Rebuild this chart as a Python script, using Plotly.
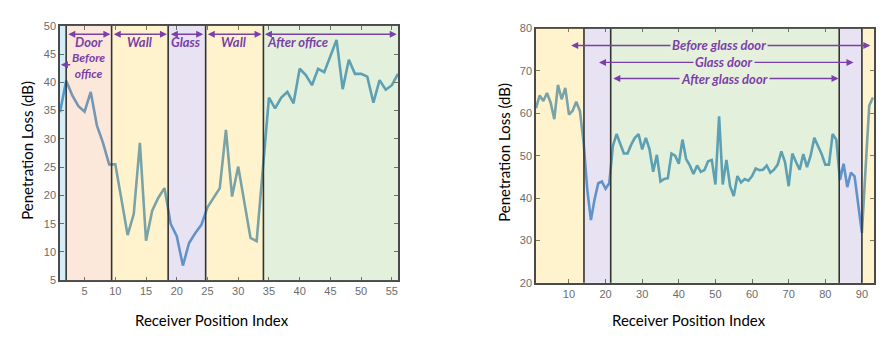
import plotly.graph_objects as go

# ---------------- data ----------------
left_x = list(range(1, 57))
left_y = [34.7, 40.3, 37.7, 35.8, 34.8, 38.3, 32.4, 29.3, 25.5, 25.5,
          19.3, 13.0, 16.7, 29.3, 12.0, 17.3, 19.6, 21.3, 15.0, 12.8,
          7.6, 11.6, 13.3, 14.8, 17.9, 19.6, 21.3, 31.6, 19.8, 25.1,
          18.8, 12.5, 11.9, 25.0, 37.3, 35.4, 37.3, 38.3, 36.3, 42.4,
          41.3, 39.5, 42.4, 41.8, 44.7, 47.5, 38.8, 44.0, 41.5, 41.5,
          41.0, 36.4, 40.4, 38.7, 39.5, 41.5]

right_x = list(range(1, 94))
right_y = [61.2, 64.2, 62.9, 64.8, 62.5, 58.6, 66.7, 63.3, 66.0, 59.7,
           60.6, 62.7, 60.5, 53.0, 42.0, 34.8, 39.7, 43.5, 43.9, 42.2,
           43.5, 52.3, 55.1, 52.8, 50.5, 50.5, 52.6, 54.2, 55.1, 51.5,
           54.2, 51.5, 46.2, 50.2, 43.9, 44.5, 44.7, 50.5, 50.0, 48.1,
           53.8, 49.2, 47.7, 45.7, 47.7, 46.2, 46.6, 48.7, 49.0, 43.2,
           59.3, 43.2, 49.0, 42.8, 40.5, 45.2, 43.7, 44.5, 44.1, 45.2,
           47.0, 46.6, 46.7, 47.7, 46.0, 46.7, 47.9, 51.0, 48.5, 42.8,
           50.5, 48.5, 46.7, 50.4, 47.3, 50.0, 54.2, 52.3, 50.4, 47.9,
           47.9, 55.1, 53.8, 44.3, 48.1, 42.6, 46.0, 45.1, 39.0, 31.8,
           47.0, 61.8, 63.7]

left_xticks = [5, 10, 15, 20, 25, 30, 35, 40, 45, 50, 55]
left_yticks = [5, 10, 15, 20, 25, 30, 35, 40, 45, 50]
right_xticks = [10, 20, 30, 40, 50, 60, 70, 80, 90]
right_yticks = [20, 30, 40, 50, 60, 70, 80]

# region boundaries (x data units) and kinds
left_bounds = [1, 2, 9.4, 18.6, 24.7, 34.1, 56]
left_kinds = ["blue", "peach", "yellow", "lavender", "yellow", "green"]
right_bounds = [1, 14.1, 21.4, 83.8, 90, 93.3]
right_kinds = ["yellow", "lavender", "green", "lavender", "yellow"]

# span labels (left chart): text, x-from, x-to
left_spans = [("Door", 2.1, 9.2), ("Wall", 9.5, 18.4), ("Glass", 18.8, 24.3),
              ("Wall", 24.8, 33.8)]
left_after = ("After office", 34.1, 55.8)
right_spans = [("Before glass door", 10.2, 92.3, 76.0),
               ("Glass door", 17.8, 87.7, 72.0),
               ("After glass door", 21.7, 83.6, 68.2)]

# ---------------- styles ----------------
overlay = {"blue": "#7CC8E4", "peach": "#F6B48E", "yellow": "#FFD966",
           "lavender": "#B4A7D6", "green": "#A9D08E"}
overlay_op = 0.32
line_color = "#3A8AC4"
purple = "#7B3FA8"
green_bg = "#E5F0DD"
tick_font = dict(family="Liberation Sans, Arial", size=11, color="#6b6b6b")
frame = "#4a4a4a"

fig = go.Figure()
fig.add_trace(go.Scatter(x=left_x, y=left_y, mode="lines",
                         line=dict(color=line_color, width=2.6),
                         xaxis="x", yaxis="y", showlegend=False))
fig.add_trace(go.Scatter(x=right_x, y=right_y, mode="lines",
                         line=dict(color=line_color, width=2.6),
                         xaxis="x2", yaxis="y2", showlegend=False))

shapes = []
def add_regions(bounds, kinds, xr, yr):
    for i, k in enumerate(kinds):
        shapes.append(dict(type="rect", xref=xr, yref=yr + " domain",
                           x0=bounds[i], x1=bounds[i + 1], y0=0, y1=1,
                           fillcolor=overlay[k], opacity=overlay_op,
                           line=dict(width=0), layer="above"))
    for b in bounds[1:-1]:
        shapes.append(dict(type="line", xref=xr, yref=yr + " domain",
                           x0=b, x1=b, y0=0, y1=1,
                           line=dict(color="#333333", width=1.6), layer="above"))

add_regions(left_bounds, left_kinds, "x", "y")
add_regions(right_bounds, right_kinds, "x2", "y2")

ann = []
def arrow(x0, x1, y, xr, yr, both=True):
    ann.append(dict(x=x1, y=y, ax=x0, ay=y, xref=xr, yref=yr, axref=xr, ayref=yr,
                    text="", showarrow=True, arrowhead=2, startarrowhead=2,
                    arrowsize=1, startarrowsize=1, arrowwidth=1.4,
                    arrowcolor=purple, standoff=0, startstandoff=0,
                    arrowside="end+start" if both else "end"))

label_font = dict(family="Lato, Carlito, sans-serif", size=13, color=purple)
small_label_font = dict(family="Lato, Carlito, sans-serif", size=12, color=purple)
for t, a, b in left_spans:
    arrow(a, b, 48.5, "x", "y")
    ann.append(dict(x=(a + b) / 2, y=47.1, xref="x", yref="y", showarrow=False,
                    text="<b><i>" + t + "</i></b>", font=label_font))
t, a, b = left_after
arrow(a, b, 48.5, "x", "y")
ann.append(dict(x=a + 0.2, y=47.1, xref="x", yref="y", showarrow=False,
                xanchor="left", text="<b><i>" + t + "</i></b>", font=label_font))
# before office (single left arrow)
arrow(2.9, 1.15, 43.1, "x", "y", both=False)
ann.append(dict(x=5.7, y=43.0, xref="x", yref="y", showarrow=False,
                text="<b><i>Before<br>office</i></b>", font=small_label_font))

for t, a, b, yv in right_spans:
    arrow(a, b, yv, "x2", "y2")
for t, a, b, yv in right_spans:
    ann.append(dict(x=(a + b) / 2 - 0.3, y=yv, xref="x2", yref="y2", showarrow=False,
                    text="<b><i>" + t + "</i></b>", font=label_font,
                    bgcolor=green_bg, borderpad=1))

title_font = dict(family="Lato, Carlito, sans-serif", size=15, color="black")
def paper_text(x, y, text, angle=0):
    ann.append(dict(x=x / 896, y=1 - y / 350, xref="paper", yref="paper",
                    xanchor="center", yanchor="middle", showarrow=False,
                    text=text, font=title_font, textangle=angle))

paper_text(212, 325, "Receiver Position Index")
paper_text(689, 325, "Receiver Position Index")
paper_text(27, 150, "Penetration Loss (dB)", -90)
paper_text(504, 152, "Penetration Loss (dB)", -90)

axis_common = dict(showline=True, linecolor=frame, linewidth=1.5, mirror="ticks",
                   ticks="inside", ticklen=4, tickcolor=frame, tickwidth=1,
                   showgrid=False, zeroline=False, tickfont=tick_font)

fig.update_layout(
    width=896, height=350, margin=dict(l=0, r=0, t=0, b=0),
    paper_bgcolor="white", plot_bgcolor="white",
    xaxis=dict(domain=[60 / 896, 398 / 896], range=[1, 56], tickvals=left_xticks,
               anchor="y", **axis_common),
    yaxis=dict(domain=[1 - 284 / 350, 1 - 20.5 / 350], range=[5, 50],
               tickvals=left_yticks, anchor="x", **axis_common),
    xaxis2=dict(domain=[536 / 896, 874 / 896], range=[1, 93.3], tickvals=right_xticks,
                anchor="y2", **axis_common),
    yaxis2=dict(domain=[1 - 286.7 / 350, 1 - 23.3 / 350], range=[20, 80],
                tickvals=right_yticks, anchor="x2", **axis_common),
    shapes=shapes, annotations=ann,
)

fig.write_html("out.html")
